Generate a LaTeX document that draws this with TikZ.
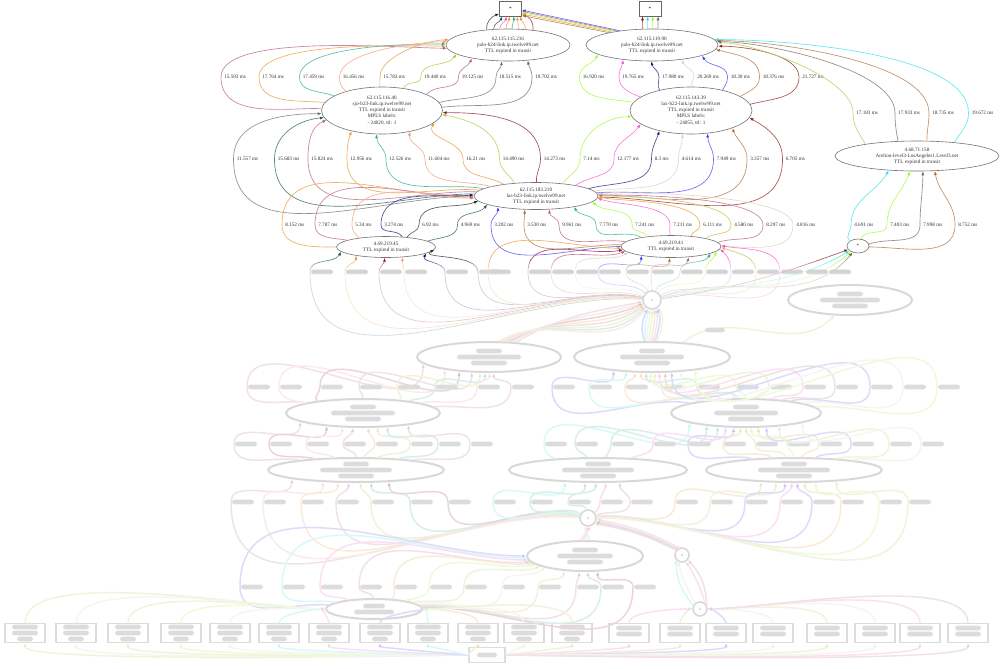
\documentclass[tikz,border=0pt]{standalone}
\usepackage{fontspec}
\setmainfont{Liberation Serif}
\usetikzlibrary{shapes.geometric,arrows.meta}
\definecolor{cgrey}{RGB}{110,110,110}
\definecolor{cblack}{RGB}{40,40,40}
\definecolor{cdteal}{RGB}{30,90,80}
\definecolor{cmauve}{RGB}{185,90,130}
\definecolor{corange}{RGB}{235,150,40}
\definecolor{cteal}{RGB}{40,170,140}
\definecolor{csalmon}{RGB}{245,150,120}
\definecolor{cygreen}{RGB}{170,200,60}
\definecolor{cdred}{RGB}{140,20,50}
\definecolor{clime}{RGB}{160,250,40}
\definecolor{cpink}{RGB}{250,80,210}
\definecolor{cnavy}{RGB}{20,20,120}
\definecolor{cbeige}{RGB}{215,210,180}
\definecolor{cblue}{RGB}{60,60,250}
\definecolor{cbrown}{RGB}{170,110,60}
\definecolor{cdredb}{RGB}{140,30,30}
\definecolor{ccyan}{RGB}{40,230,230}
\definecolor{cgbrown}{RGB}{120,100,90}
\definecolor{colive}{RGB}{190,190,60}
\newcommand\nf{\fontsize{3.9pt}{4.6pt}\selectfont}
\newcommand\tredge[7]{\draw[ed=#1] (#2) to[out=#3,in=-90] (#4) node[lbl]{#7} to[out=90,in=#6] (#5);}
\newcommand\tredgel[8]{\draw[ed=#1] (#2) to[out=#3,in=-90] (#4) node[lbl]{#7} to[out=90,in=#6,looseness=#8] (#5);}
\newcommand\smudge[3]{\fill[black!45,rounded corners=2pt] (#1-#3/2,#2-2.4) rectangle (#1+#3/2,#2+2.4);}
\begin{document}
\begin{tikzpicture}[x=0.75pt,y=-0.75pt,
  el/.style={ellipse,draw=black!55,line width=0.45pt,inner sep=0pt,align=center,font=\nf,text=black!80},
  boxn/.style={rectangle,draw=black!60,line width=0.45pt,minimum width=16.5pt,minimum height=11.25pt,inner sep=0pt,font=\nf},
  ed/.style={draw=#1!75,line width=0.5pt,-{Latex[length=3pt,width=2.2pt,color=#1]}},
  bl/.style={draw=#1!60,line width=1.1pt,-{Latex[length=3pt,width=2.4pt,color=#1]}},
  lbl/.style={anchor=west,inner sep=2.2pt,font=\nf,text=black!80},
  bel/.style={ellipse,draw=black!50,line width=1.5pt,inner sep=0pt},
  bq/.style={circle,draw=black!50,line width=1.2pt,inner sep=0pt,minimum size=#1},
  brect/.style={rectangle,draw=black!45,line width=1.2pt,inner sep=0pt,minimum width=30pt,minimum height=14pt}]
\useasboundingbox (0,0) rectangle (1002,668);

% ---------- clear nodes ----------
\node[boxn] (box1) at (510.5,8.5) {*};
\node[boxn] (box2) at (650,8.5) {*};
\node[el,minimum width=93pt,minimum height=24pt] (A) at (508,45) {62.115.115.216\\palo-b24-link.ip.twelve99.net\\TTL expired in transit};
\node[el,minimum width=99pt,minimum height=24pt] (B) at (652,45) {62.115.119.90\\palo-b24-link.ip.twelve99.net\\TTL expired in transit};
\node[el,minimum width=90.75pt,minimum height=35.25pt] (C) at (382,110.5) {62.115.116.40\\sjo-b23-link.ip.twelve99.net\\TTL expired in transit\\MPLS labels:\\- 24020, ttl: 1};
\node[el,minimum width=91.5pt,minimum height=35.25pt] (D) at (691,110.5) {62.115.143.39\\lax-b22-link.ip.twelve99.net\\TTL expired in transit\\MPLS labels:\\- 24055, ttl: 1};
\node[el,minimum width=123pt,minimum height=22.5pt] (E) at (917,156) {4.68.71.158\\Arelion-level3-LosAngeles1.Level3.net\\TTL expired in transit};
\node[el,minimum width=93pt,minimum height=20.25pt] (F) at (536,196) {62.115.183.210\\las-b23-link.ip.twelve99.net\\TTL expired in transit};
\node[el,minimum width=74.25pt,minimum height=15.75pt] (G) at (386,247) {4.69.219.45\\TTL expired in transit};
\node[el,minimum width=75pt,minimum height=16.5pt] (H) at (671,246.5) {4.69.219.41\\TTL expired in transit};
\node[el,minimum width=16.5pt,minimum height=10.5pt] (S) at (858,246) {*};

% ---------- blurred nodes ----------
\node[bq=13.5pt] (Q1) at (652,300) {};
\node[bel,minimum width=93pt,minimum height=22.5pt] (R1) at (850,300) {};
\node[bel,minimum width=108pt,minimum height=22.5pt] (M1) at (489,357) {};
\node[bel,minimum width=117pt,minimum height=22.5pt] (M2) at (652,357) {};
\node[bel,minimum width=115.5pt,minimum height=21pt] (L1) at (363,413) {};
\node[bel,minimum width=112.5pt,minimum height=21pt] (L2) at (746,413) {};
\node[bel,minimum width=132pt,minimum height=18pt] (N1) at (356,470) {};
\node[bel,minimum width=133.5pt,minimum height=18pt] (N2) at (598,470) {};
\node[bel,minimum width=132pt,minimum height=18pt] (N3) at (794,470) {};
\node[bq=12pt] (Q2) at (588,518) {};
\node[bel,minimum width=87pt,minimum height=22.5pt] (P1) at (585,556) {};
\node[bq=10.5pt] (Q3) at (682,555) {};
\node[bel,minimum width=72pt,minimum height=15pt] (P2) at (374,609) {};
\node[bq=10.5pt] (Q4) at (700,609) {};
\node[brect,minimum width=27pt,minimum height=11.25pt] (BR) at (487,655) {};
\foreach \x [count=\i] in {25,76,128,181,230,279,329,380,428,478,524,572}{
  \node[brect] (RL\i) at (\x,633) {};
  \smudge{\x}{627}{26}\smudge{\x}{633}{26}\smudge{\x}{639}{16}}
\foreach \x [count=\i] in {629,680,726,773,827,875,920,968}{
  \node[brect] (RR\i) at (\x,633) {};
  \smudge{\x}{628}{26}\smudge{\x}{634}{26}}
% smudged texts of blurred nodes
\foreach \cx/\cy/\w in {850/300/60,489/357/64,652/357/64,363/413/64,746/413/64,356/470/72,598/470/72,794/470/72,585/556/56}{
  \smudge{\cx}{\cy-6}{26}\smudge{\cx}{\cy}{\w}\smudge{\cx}{\cy+6}{36}}
\smudge{374}{606}{22}\smudge{374}{612}{40}
\smudge{487}{655}{20}
\foreach \p in {Q1,Q2,Q3,Q4}{\fill[black!45] (\p) circle (1.3);}

% ---------- A -> box1, B -> box1, B -> box2 ----------
\draw[ed=cblack] (A.144) to[out=100,in=200] (box1.205);
\draw[ed=cdteal] (A.132) to[out=95,in=250] (box1.223);
\draw[ed=cpink] (A.117) to[out=90,in=-100] (box1.242);
\draw[ed=corange] (A.97) to[out=90,in=-95] (box1.262);
\draw[ed=cteal] (A.76) to[out=90,in=-85] (box1.292);
\draw[ed=csalmon] (A.57) to[out=90,in=-80] (box1.309);
\draw[ed=corange] (A.42) to[out=85,in=-70] (box1.320);
\draw[ed=cdred] (A.31) to[out=80,in=-20] (box1.335);
\draw[ed=cblue] (B.156) -- (box1.-8);
\draw[ed=cmauve] (B.158) -- (box1.-14);
\draw[ed=clime] (B.160) -- (box1.-20);
\draw[ed=corange] (B.162) -- (box1.-26);
\draw[ed=cbrown] (B.164) -- (box1.-32);
\draw[ed=cdredb] (B.120) -- (box2.226);
\draw[ed=ccyan] (B.105) -- (box2.253);
\draw[ed=clime] (B.88) -- (box2.290);
\draw[ed=cgbrown] (B.70) -- (box2.316);

% ---------- C -> A ----------
\tredgel{cmauve}{C.178}{180}{221,77}{A.183}{180}{15.593 ms}{0.5}
\tredgel{corange}{C.172}{175}{259,77}{A.181}{180}{17.764 ms}{0.5}
\tredgel{cteal}{C.163}{160}{299.5,77}{A.179}{180}{17.459 ms}{0.55}
\tredgel{csalmon}{C.152}{140}{339.5,77}{A.177}{180}{16.456 ms}{0.6}
\tredgel{corange}{C.95}{95}{380,77}{A.175}{180}{15.783 ms}{0.7}
\tredge{cygreen}{C.46}{70}{421,77}{A.190}{235}{19.440 ms}
\tredge{cmauve}{C.20}{50}{458.5,77}{A.200}{250}{19.125 ms}
\tredge{cgrey}{C.8}{15}{496,77}{A.248}{-90}{18.515 ms}
\tredge{cgbrown}{C.3}{8}{532,77}{A.322}{-80}{19.702 ms}
% ---------- D -> B ----------
\tredge{clime}{D.172}{170}{579.5,77}{B.190}{240}{16.920 ms}
\tredge{cpink}{D.165}{160}{619,77}{B.207}{260}{19.765 ms}
\tredge{cnavy}{D.147}{120}{659,77}{B.268}{-80}{17.980 ms}
\tredge{cbeige}{D.90}{95}{694,77}{B.334}{-70}{20.269 ms}
\tredge{cblue}{D.33}{60}{727.5,77}{B.-12}{-60}{18.30 ms}
\tredge{cbrown}{D.16}{30}{759.5,77}{B.-4}{-15}{18.376 ms}
\tredgel{cdredb}{D.6}{15}{799,77}{B.-1}{0}{21.727 ms}{0.7}
% ---------- E -> B ----------
\tredgel{cygreen}{E.167}{120}{853,113}{B.2}{0}{17.183 ms}{0.6}
\tredgel{cgbrown}{E.142}{100}{895,113}{B.3}{0}{17.933 ms}{0.6}
\tredgel{cbrown}{E.57}{90}{929,113}{B.4}{0}{18.735 ms}{0.6}
\tredgel{ccyan}{E.20}{60}{968.5,113}{B.5}{0}{19.672 ms}{0.6}
% ---------- F -> C ----------
\tredge{cgrey}{F.180}{180}{233.5,159}{C.183}{180}{11.557 ms}
\tredge{cdteal}{F.178}{180}{274.5,159}{C.187}{185}{15.683 ms}
\tredge{cmauve}{F.176}{178}{308,159}{C.190}{200}{15.824 ms}
\tredge{corange}{F.174}{175}{347,159}{C.214}{250}{12.956 ms}
\tredge{cteal}{F.172}{170}{386,159}{C.257}{-90}{12.526 ms}
\tredge{csalmon}{F.168}{165}{425,159}{C.323}{-100}{11.604 ms}
\tredge{corange}{F.160}{150}{463,159}{C.347}{-120}{16.21 ms}
\tredge{cygreen}{F.149}{120}{499.5,159}{C.356}{-10}{14.490 ms}
\tredge{cdred}{F.88}{95}{540.5,159}{C.358}{0}{14.273 ms}
% ---------- F -> D ----------
\tredge{clime}{F.25}{55}{580,159}{D.186}{180}{7.14 ms}
\tredge{cpink}{F.15}{35}{614,159}{D.195}{235}{12.177 ms}
\tredge{cnavy}{F.8}{15}{651.5,159}{D.213}{250}{8.3 ms}
\tredge{cbeige}{F.5}{8}{678.5,159}{D.250}{-90}{4.614 ms}
\tredge{cblue}{F.3}{5}{713.5,159}{D.-54}{-90}{7.949 ms}
\tredge{cbrown}{F.1}{0}{747,159}{D.-23}{-70}{3.357 ms}
\tredge{cdredb}{F.-1}{0}{782.5,159}{D.-7}{-30}{6.705 ms}
% ---------- G -> F ----------
\tredge{corange}{G.180}{180}{282,225}{F.182}{180}{8.152 ms}
\tredge{cmauve}{G.170}{170}{315,225}{F.181}{180}{7.787 ms}
\tredge{csalmon}{G.161}{140}{352,225}{F.180}{180}{5.34 ms}
\tredge{cnavy}{G.32}{120}{381,225}{F.179}{185}{3.274 ms}
\tredge{cblack}{G.25}{60}{419,225}{F.185}{200}{6.92 ms}
\tredge{cdteal}{G.8}{20}{457.5,225}{F.190}{230}{4.969 ms}
% ---------- H -> F ----------
\tredge{cblue}{H.180}{180}{491,225}{F.196}{-90}{3.202 ms}
\tredge{cbrown}{H.178}{178}{524,225}{F.230}{-90}{3.530 ms}
\tredge{cmauve}{H.174}{170}{559,225}{F.-45}{-90}{9.961 ms}
\tredge{cteal}{H.163}{150}{596,225}{F.-16}{-60}{7.770 ms}
\tredge{clime}{H.157}{120}{632,225}{F.-6}{-40}{7.241 ms}
\tredgel{cpink}{H.95}{100}{670,225}{F.-2}{-20}{7.211 ms}{0.7}
\tredgel{corange}{H.28}{70}{700,225}{F.-1}{-10}{6.111 ms}{0.6}
\tredgel{colive}{H.13}{40}{731,225}{F.0}{0}{4.580 ms}{0.5}
\tredgel{cmauve}{H.5}{20}{763,225}{F.1}{0}{8.297 ms}{0.45}
\tredgel{cbeige}{H.0}{0}{793,225}{F.2}{5}{4.816 ms}{0.4}
% ---------- S -> E ----------
\tredge{ccyan}{S.150}{140}{851,225}{E.207}{240}{4.691 ms}
\tredge{clime}{S.70}{70}{887,225}{E.245}{250}{7.403 ms}
\tredge{cgbrown}{S.10}{20}{920,225}{E.-69}{-90}{7.998 ms}
\tredge{cbrown}{S.-5}{0}{955,225}{E.-40}{-80}{8.752 ms}

% ---------- Q1 -> G, H, S (fading into blur) ----------
\foreach \x/\o/\e/\ii/\c in {310/176/186/240/cdteal,345/174/196/-90/corange,379/172/262/-90/cdred,404/170/329/-100/csalmon,445/168/351/-120/cnavy,478/166/357/-150/cblack}{
  \draw[ed=\c] (Q1.\o) to[out=\o,in=-90] (\x,272) to[out=90,in=\ii] (G.\e);
  \smudge{\x+12}{272}{22}}
\foreach \x/\o/\e/\ii/\c in {488/170/182/180/corange,528/165/184/190/cdred,551/160/186/200/cmauve,575/150/188/210/cbeige,598/135/197/-90/cblue,626/115/262/-90/cbrown,651/90/329/-100/cmauve,680/70/350/-120/cteal,705/50/354/-110/clime,731/30/357/-40/cpink,756/20/359/-20/colive,780/15/1/-10/cpink}{
  \draw[ed=\c] (Q1.\o) to[out=\o,in=-90] (\x,272) to[out=90,in=\ii] (H.\e);
  \smudge{\x+12}{272}{22}}
\foreach \o/\e/\c in {8/200/cdredb,12/210/ccyan,16/220/clime,20/230/cgbrown}{
  \draw[ed=\c] (Q1.\o) to[out=\o,in=\e] (S.\e);}
\smudge{817}{272}{22}\smudge{840}{272}{22}

% ---------- blurred edges ----------
\foreach \i/\c in {1/cmauve,2/csalmon,3/cdred,4/corange,5/cmauve,6/cygreen,7/cteal,8/csalmon}{
  \pgfmathtruncatemacro\aa{25+4*\i}\pgfmathtruncatemacro\bb{185+6*\i}
  \draw[bl=\c] (M1.\aa) to[out=30,in=\bb] (Q1.\bb);}
\foreach \i/\c in {1/cblue,2/ccyan,3/cbeige,4/clime,5/corange,6/cpink,7/cblue,8/cygreen}{
  \pgfmathtruncatemacro\aa{120-6*\i}\pgfmathtruncatemacro\bb{235+9*\i}
  \draw[bl=\c] (M2.\aa) to[out=\aa,in=\bb] (Q1.\bb);}
\draw[bl=cygreen] (M2.25) to[out=40,in=225] (R1.225);
\smudge{715}{330}{20}
% L1 -> M1
\foreach \x/\o/\e/\c in {259/170/186/cmauve,291/170/196/csalmon,332/165/206/cdred,371/90/222/cmauve,409/20/240/cygreen,447/15/256/cteal,489/10/272/csalmon,523/5/286/cmauve}{
  \draw[bl=\c] (L1.\o) to[out=\o,in=-90] (\x-12,387) to[out=90,in=-90] (M1.\e);
  \smudge{\x}{387}{22}}
% L2 -> M2
\foreach \x/\o/\e/\c in {564/170/200/cblue,601/165/210/ccyan,637/160/222/corange,674/150/235/corange,709/120/250/cteal,748/90/265/clime,781/60/280/cygreen,815/30/295/cpink,847/20/310/cbrown,882/15/322/cblue,915/10/333/cbeige,949/5/343/clime}{
  \draw[bl=\c] (L2.\o) to[out=\o,in=-90] (\x-12,387) to[out=90,in=-90] (M2.\e);
  \smudge{\x}{387}{22}}
% N1 -> L1
\foreach \x/\o/\e/\c in {246/170/188/cmauve,281/165/200/cdred,318/150/215/csalmon,355/90/235/cmauve,387/60/290/corange,422/30/315/cygreen,450/15/330/cteal,482/10/345/cmauve}{
  \draw[bl=\c] (N1.\o) to[out=\o,in=-90] (\x-12,444) to[out=90,in=-90] (L1.\e);
  \smudge{\x}{444}{22}}
% N2, N3 -> L2
\foreach \x/\o/\e/\c in {556/165/190/ccyan,587/130/198/cteal,623/60/206/cteal,665/20/215/cpink}{
  \draw[bl=\c] (N2.\o) to[out=\o,in=-90] (\x-12,444) to[out=90,in=-90] (L2.\e);
  \smudge{\x}{444}{22}}
\foreach \x/\o/\e/\c in {700/165/230/cblue,735/150/250/corange,767/120/270/cygreen,799/90/290/clime,831/60/310/corange,863/30/325/cblue,901/15/338/cygreen,933/10/350/cbeige}{
  \draw[bl=\c] (N3.\o) to[out=\o,in=-90] (\x-12,444) to[out=90,in=-90] (L2.\e);
  \smudge{\x}{444}{22}}
% Q2 -> N1, N2, N3
\foreach \x/\o/\e/\c in {243/175/188/cmauve,275/175/200/csalmon,313/172/215/corange,348/170/240/cmauve,383/168/290/cygreen,422/165/320/cteal,460/160/340/cdred}{
  \draw[bl=\c] (Q2.\o) to[out=\o,in=-90] (\x-12,502) to[out=90,in=-90] (N1.\e);
  \smudge{\x}{502}{22}}
\foreach \x/\o/\e/\c in {505/160/200/ccyan,542/150/225/cteal,580/100/260/cteal,612/40/300/cpink,642/20/330/cmauve}{
  \draw[bl=\c] (Q2.\o) to[out=\o,in=-90] (\x-12,502) to[out=90,in=-90] (N2.\e);
  \smudge{\x}{502}{22}}
\foreach \x/\o/\e/\c in {687/10/200/corange,722/8/215/cygreen,757/6/235/cblue,792/5/260/cpink,824/4/285/cblue,853/3/310/corange,891/2/330/clime,920/1/345/cygreen}{
  \draw[bl=\c] (Q2.\o) to[out=\o,in=-90] (\x-12,502) to[out=90,in=-90] (N3.\e);
  \smudge{\x}{502}{22}}
% P1 -> Q2, Q3 -> Q2, Q4 -> Q3
\foreach \a/\b/\c in {75/250/ccyan,85/262/cbeige,95/275/corange,105/288/cpink}{
  \draw[bl=\c] (P1.\a) -- (Q2.\b);}
\foreach \a/\b/\c in {110/-10/cpink,120/-20/corange,130/-30/cblue,140/-40/cbrown}{
  \draw[bl=\c] (Q3.\a) to[bend right=8] (Q2.\b);}
\foreach \a/\b/\bb/\c in {150/220/20/ccyan,130/240/8/cbeige,50/300/-8/cpink,30/320/-20/cmauve}{
  \draw[bl=\c] (Q4.\a) to[bend left=\bb] (Q3.\b);}
% P2 -> P1
\foreach \x/\o/\e/\ii/\c in {252/175/180/180/cblue,294/170/182/180/ccyan,332/160/184/180/cpink,371/95/186/185/cmauve,406/30/188/185/corange,441/15/190/190/clime,476/10/193/200/cygreen,514/8/196/220/cbeige,550/5/215/-90/cygreen,588/4/250/-90/cmauve,613/3/280/-90/cteal,645/2/310/-100/cdred}{
  \draw[bl=\c] (P2.\o) to[out=\o,in=-90] (\x-12,587) to[out=90,in=\ii] (P1.\e);
  \smudge{\x}{587}{22}}
% rectangles -> P2 / Q4, BR -> rectangles
\foreach \x/\i/\c in {25/1/cygreen,76/2/cbeige,128/3/cygreen,181/4/clime,230/5/cbeige,279/6/ccyan,329/7/cpink,380/8/cblue,428/9/ccyan,478/10/corange,524/11/cbeige,572/12/cygreen}{
  \pgfmathtruncatemacro\sa{ifthenelse(\x<374,180,0)}
  \draw[bl=\c] (RL\i.north) to[out=90,in=\sa,looseness=0.5] (P2.\sa);
  \pgfmathtruncatemacro\sb{ifthenelse(\x<487,180,0)}
  \draw[bl=\c] (BR.\sb) to[out=\sb,in=-90,looseness=0.12] (RL\i.south);}
\foreach \x/\i/\c in {629/1/cpink,680/2/corange,726/3/cblue,773/4/cbeige,827/5/cygreen,875/6/cbeige,920/7/cpink,968/8/cmauve}{
  \pgfmathtruncatemacro\sa{ifthenelse(\x<700,180,0)}
  \draw[bl=\c] (RR\i.north) to[out=90,in=\sa,looseness=0.5] (Q4.\sa);
  \draw[bl=\c] (BR.0) to[out=0,in=-90,looseness=0.12] (RR\i.south);}

% ---------- fade of the blurred lower part ----------
\foreach \yy in {261,264,267,270,273}{\fill[white,opacity=0.22] (0,\yy) rectangle (1002,668);}
\end{tikzpicture}
\end{document}
